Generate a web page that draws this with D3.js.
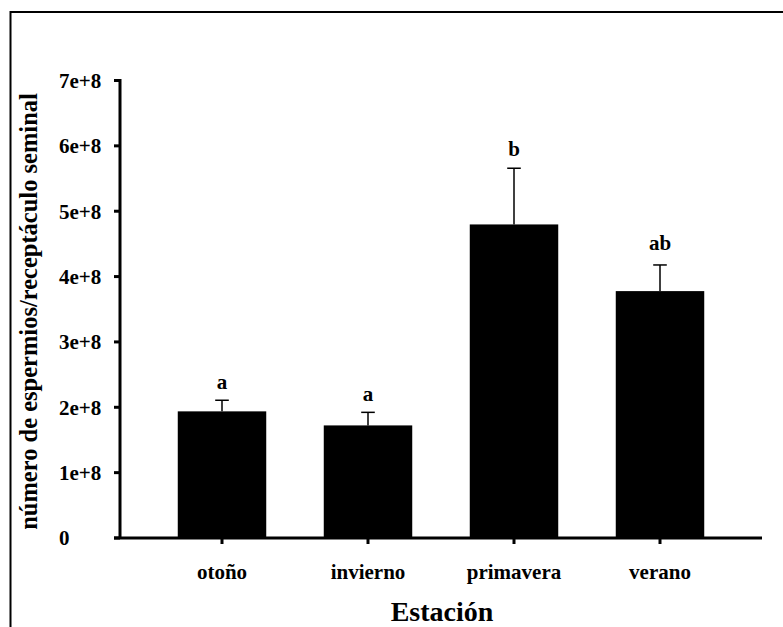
<!DOCTYPE html>
<html>
<head>
<meta charset="utf-8">
<script src="https://cdn.jsdelivr.net/npm/d3@7"></script>
<style>
  html, body { margin: 0; padding: 0; background: #fff; }
  svg { display: block; }
  text { font-family: "Liberation Serif", "Times New Roman", serif; font-weight: bold; fill: #000; }
</style>
</head>
<body>
<script>
// Seasons and mean sperm counts per seminal receptacle (± standard error)
const seasons = ["otoño", "invierno", "primavera", "verano"];
const means = [1.93e8, 1.715e8, 4.79e8, 3.77e8];
const stdErrors = [0.17e8, 0.20e8, 0.86e8, 0.40e8];
// Significance letters and the level at which each is written
const sigLetters = ["a", "a", "b", "ab"];
const sigLetterAt = [2.265e8, 2.09e8, 5.84e8, 4.40e8];
const yTicks = [0, 1e8, 2e8, 3e8, 4e8, 5e8, 6e8, 7e8];
const yTickLabels = ["0", "1e+8", "2e+8", "3e+8", "4e+8", "5e+8", "6e+8", "7e+8"];

const W = 783, H = 627;
const svg = d3.select("body").append("svg").attr("width", W).attr("height", H);

// Frame around the figure (open to the right and bottom edges)
svg.append("rect")
  .attr("x", 10.5).attr("y", 12)
  .attr("width", W + 20).attr("height", H + 20)
  .attr("fill", "none").attr("stroke", "#000").attr("stroke-width", 2);

const y = d3.scaleLinear().domain([0, 7e8]).range([537.5, 80]);
const x = d3.scaleBand().domain(seasons).range([149, 733])
  .paddingInner(0.394).paddingOuter(0.197);

// Bars
svg.append("g").selectAll("rect")
  .data(seasons)
  .join("rect")
  .attr("x", d => x(d))
  .attr("width", x.bandwidth())
  .attr("y", (d, i) => y(means[i]))
  .attr("height", (d, i) => y(0) - y(means[i]))
  .attr("fill", "#000");

// Upper error bars
const eb = svg.append("g").attr("stroke", "#000").attr("stroke-width", 1.5);
seasons.forEach((s, i) => {
  const cx = x(s) + x.bandwidth() / 2;
  const top = y(means[i] + stdErrors[i]);
  eb.append("line").attr("x1", cx).attr("x2", cx).attr("y1", y(means[i])).attr("y2", top);
  eb.append("line").attr("x1", cx - 6.8).attr("x2", cx + 6.8).attr("y1", top).attr("y2", top);
});

// Significance letters
svg.append("g").selectAll("text")
  .data(seasons)
  .join("text")
  .attr("x", d => x(d) + x.bandwidth() / 2)
  .attr("y", (d, i) => y(sigLetterAt[i]))
  .attr("text-anchor", "middle")
  .style("font-size", "21px")
  .text((d, i) => sigLetters[i]);

// Y axis
const yAxis = d3.axisLeft(y)
  .tickValues(yTicks)
  .tickSize(6)
  .tickFormat((d, i) => yTickLabels[i]);
const gy = svg.append("g").attr("transform", "translate(120,0)").call(yAxis);
gy.select(".domain").remove();
gy.selectAll(".tick line").attr("stroke", "#000").attr("stroke-width", 3);
gy.selectAll(".tick text")
  .attr("x", -61).attr("dy", "0.35em")
  .attr("text-anchor", "start")
  .style("font-size", "21px");
svg.append("line")
  .attr("x1", 120).attr("x2", 120).attr("y1", 79).attr("y2", 539)
  .attr("stroke", "#000").attr("stroke-width", 3);

// X axis
const xAxis = d3.axisBottom(x).tickSize(6).tickPadding(20);
const gx = svg.append("g").attr("transform", "translate(0,538)").call(xAxis);
gx.select(".domain").remove();
gx.selectAll(".tick line").attr("stroke", "#000").attr("stroke-width", 3);
gx.selectAll(".tick text").style("font-size", "21px");
svg.append("line")
  .attr("x1", 114).attr("x2", 762).attr("y1", 538).attr("y2", 538)
  .attr("stroke", "#000").attr("stroke-width", 3);

// Axis titles
svg.append("text")
  .attr("x", 442).attr("y", 621)
  .attr("text-anchor", "middle")
  .style("font-size", "28px")
  .text("Estación");

svg.append("text")
  .attr("transform", "translate(37,311.5) rotate(-90)")
  .attr("text-anchor", "middle")
  .style("font-size", "24.5px")
  .text("número de espermios/receptáculo seminal");
</script>
</body>
</html>
